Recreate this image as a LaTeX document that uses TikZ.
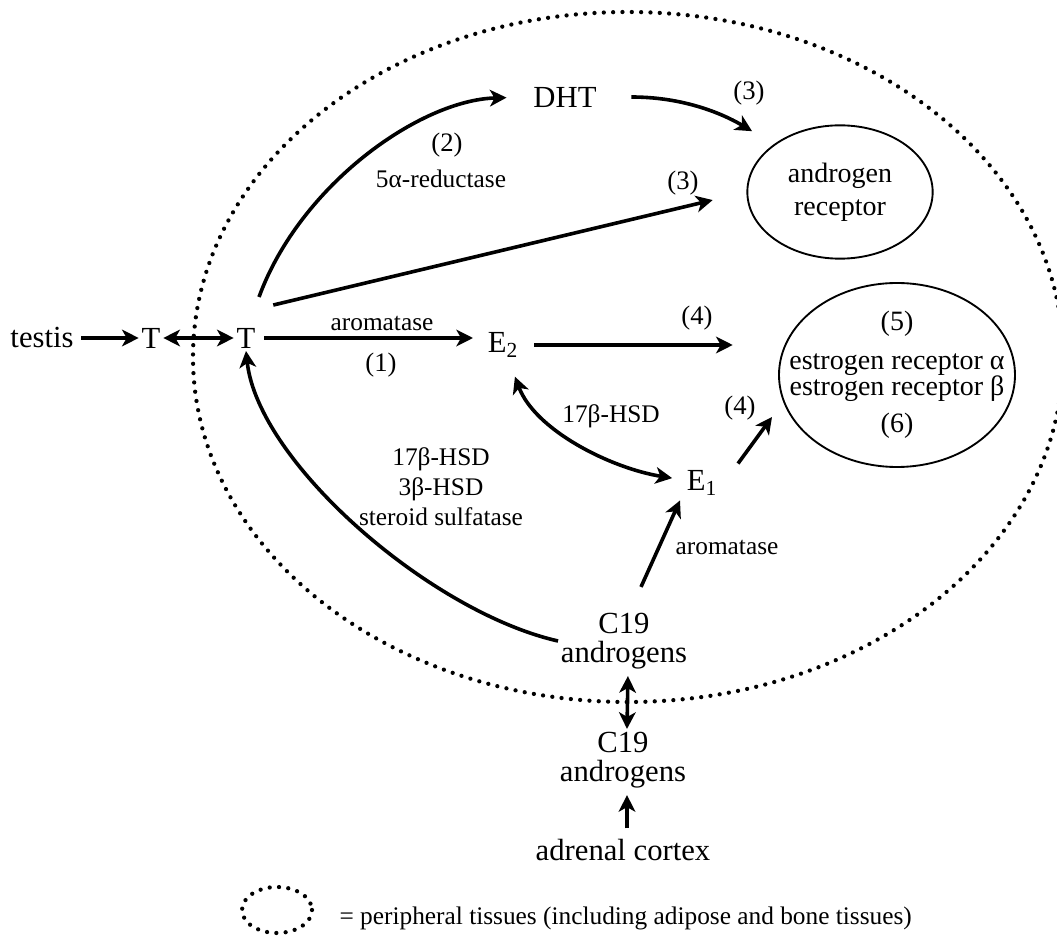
\documentclass[tikz,border=0pt]{standalone}
\usepackage{fontspec}
\setmainfont{Liberation Serif}
\usetikzlibrary{arrows.meta,shapes.geometric}
\tikzset{
  >={Stealth[length=12.5pt,width=12.5pt,inset=3.5pt]},
  big/.style={font=\fontsize{23}{22}\selectfont, inner sep=2pt},
  lbl/.style={font=\fontsize{19}{22.5}\selectfont, inner sep=1pt},
  num/.style={font=\fontsize{20}{24}\selectfont, inner sep=1pt},
  recep/.style={draw, ellipse, line width=1.4pt, inner sep=0pt},
  rectext/.style={font=\fontsize{21}{24.75}\selectfont, align=center},
  flow/.style={line width=2.7pt},
  periph/.style={line width=3.2pt, line cap=round, dash pattern=on 0pt off 7pt},
}

\begin{document}
\begin{tikzpicture}[x=0.75pt,y=-0.75pt]
\useasboundingbox (0,0) rectangle (1057,937);
% peripheral tissues
\draw[periph] (628,357) ellipse [x radius=435, y radius=345];

\node[big] (testis) at (42,338) {testis};
\node[big] (Tout) at (151,338) {T};
\node[big] (Tin) at (246,338) {T};
\node[big] (E2) at (503,345) {E\textsubscript{2}};
\node[big] (DHT) at (565,97) {DHT};
\node[big] (E1) at (702,483) {E\textsubscript{1}};
\node[big, align=center] (C19in) at (624,641) {C19\\androgens};
\node[big, align=center] (C19out) at (623,760) {C19\\androgens};
\node[big] (adrenal) at (623,850) {adrenal cortex};

\node[recep, minimum width=139pt, minimum height=100pt,
  label={[rectext]center:androgen\\receptor}] (AR) at (840,192) {};
\node[recep, minimum width=177pt, minimum height=138pt,
  label={[rectext, font=\fontsize{21}{19.5}\selectfont]center:(5)\\[9.75pt]estrogen receptor α\\estrogen receptor β\\[8.25pt](6)}] (ER) at (897,375) {};

\node[lbl] (aro1) at (382,323) {aromatase};
\node[num] (n1) at (381,365) {(1)};
\node[num] (n2) at (447,145) {(2)};
\node[lbl] (red) at (441,179) {5α-reductase};
\node[num] (n3a) at (749,93) {(3)};
\node[num] (n3b) at (683,183) {(3)};
\node[num] (n4a) at (697,318) {(4)};
\node[num] (n4b) at (740,408) {(4)};
\node[lbl] (hsd) at (611,416) {17β-HSD};
\node[lbl, align=center] (enz) at (441,487) {17β-HSD\\3β-HSD\\steroid sulfatase};
\node[lbl] (aro2) at (727,547) {aromatase};

\coordinate (ERtip) at (772,417);

\draw[flow,->, shorten <=3.5pt] (testis) -- (Tout);
\draw[flow,<->] (Tout) -- (Tin);
\draw[flow,->, shorten <=4.5pt, shorten >=9pt] (Tin.east) -- (Tin.east -| E2.west);
\draw[flow,->, shorten <=10pt, shorten >=34pt] (E2.east) -- (E2.east -| ER.west);
\draw[flow,->, shorten >=26pt] ([shift={(15,-20)}]Tin.north east) -- (AR.west);
\draw[flow,->, shorten >=18pt] ([shift={(13,-28)}]Tin.north) .. controls (300,185) and (420,100) .. (DHT.west);
\draw[flow,->, shorten <=24pt, shorten >=19pt] (DHT.east) .. controls (690,97) and (730,118) .. (AR.north west);
\draw[flow,<->, shorten <=13pt, shorten >=9pt] (E2) .. controls (535,430) and (610,468) .. (E1);
\draw[flow,->] ([shift={(18,-4)}]E1.north east) -- (ERtip);
\draw[flow,->] ([shift={(17,-23)}]C19in.north) -- ([shift={(-22,2)}]E1.south);
\draw[flow,->] (C19in.west) .. controls (430,612) and (258,462) .. (Tin.south);
\draw[flow,<->, shorten <=3pt] ([xshift=3pt]C19in.south) -- ([xshift=3pt]C19out.north);
\draw[flow,->, shorten <=6pt, shorten >=3pt] ([xshift=3pt]adrenal.north) -- ([xshift=3pt]adrenal.north |- C19out.south);

% legend
\draw[periph] (277,910) ellipse [x radius=35, y radius=23];
\node[lbl, anchor=west] (legend) at (338,918) {= peripheral tissues (including adipose and bone tissues)};
\end{tikzpicture}
\end{document}
